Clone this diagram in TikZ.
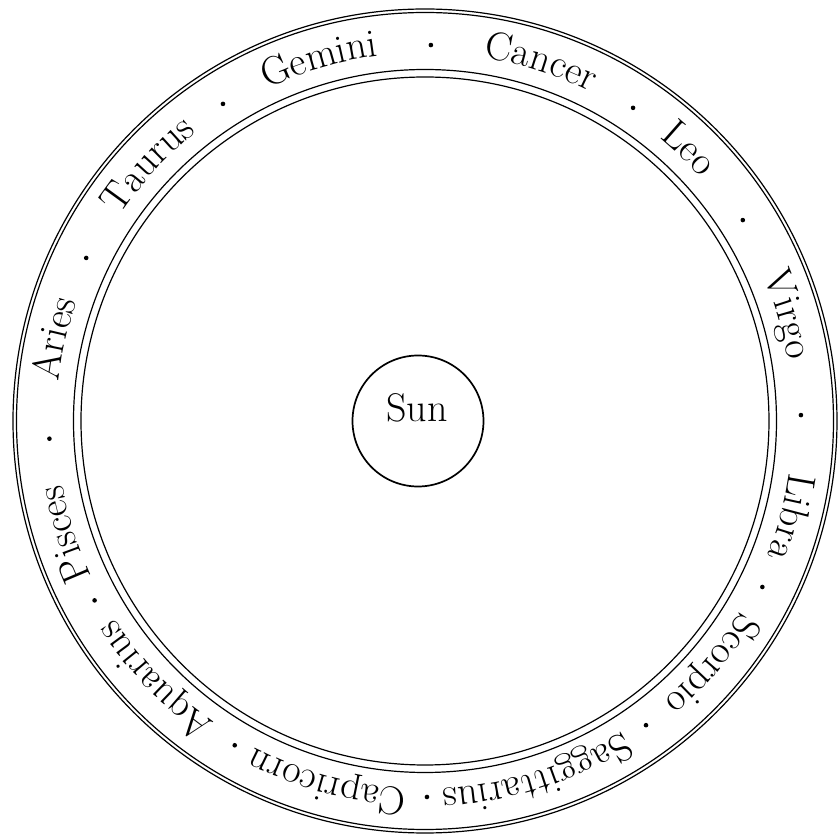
\documentclass[tikz,border=0pt]{standalone}
\usepackage{fontspec}
\usetikzlibrary{decorations.text}
\newcommand\zfont{\fontsize{40}{48}\selectfont\addfontfeatures{FakeBold=1.2}}
\begin{document}
\begin{tikzpicture}[x=1pt,y=1pt,
  ring/.style={line width=1.2pt},
  dotmark/.style={fill=black},
  zodiac/.style={decorate, decoration={text along path, text align=center, text={|\zfont|#1}}}
]
\useasboundingbox (-425,-416) rectangle (414,421);
% double rings
\draw[ring] (0,0) circle[radius=412];
\draw[ring] (0,0) circle[radius=408.5];
\draw[ring] (0,0) circle[radius=351.5];
\draw[ring] (0,0) circle[radius=344];
% sun
\node (sun) [circle, draw, line width=1.7pt, minimum size=131pt, inner sep=0pt] at (-7,0) {};
\node (sunlabel) [anchor=base, inner sep=0pt] at (-8,-1) {\zfont Sun};
% zodiac names, clockwise
\foreach \c/\w in {167.5/Aries, 137.2/Taurus, 106.3/Gemini, 72.1/Cancer, 45.9/Leo, 16.3/Virgo,
  -14.7/Libra, -40.3/Scorpio, -72.4/Saggittarius, -105.2/Capricorn, -136.2/Aquarius, -162.6/Pisces}{
  \path[zodiac=\w] (\c+40:368) arc[start angle=\c+40, end angle=\c-40, radius=368];
}
% separating dots
\foreach \a in {182.7, 154.3, 122.5, 89.1, 56.4, 32.3, 0.9, -26.2, -54.0, -89.7, -120.4, -151.5}{
  \fill[dotmark] (\a:376) circle[radius=2.3];
}
\end{tikzpicture}
\end{document}
